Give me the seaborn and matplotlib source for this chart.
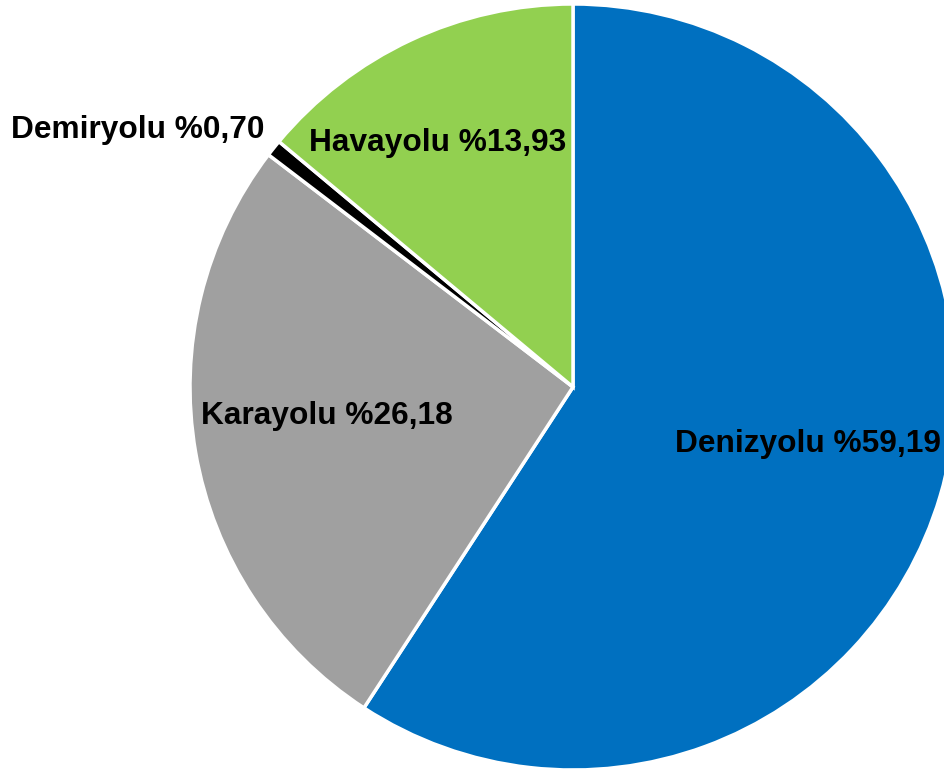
import matplotlib
matplotlib.use("Agg")
import matplotlib.pyplot as plt
import numpy as np
import seaborn as sns

sns.set_style("white")
plt.rcParams["font.family"] = ["Liberation Sans", "DejaVu Sans"]

categories = ["Denizyolu", "Karayolu", "Demiryolu", "Havayolu"]
shares = [59.19, 26.18, 0.70, 13.93]
colors = ["#0070C0", "#A0A0A0", "#000000", "#92D050"]

# label placement: radius (in pie radii), extra angle offset (deg), alignment
label_r = [0.63, 0.646, 1.05, 0.73]
label_dang = [3.0, -3.0, -1.2, 4.0]
label_ha = ["center", "center", "right", "center"]

fig = plt.figure(figsize=(9.45, 7.73), dpi=100)
ax = fig.add_axes([0, 0, 1, 1])

wedges, _ = ax.pie(
    shares, colors=colors, startangle=90, counterclock=False,
    radius=1.0, wedgeprops={"edgecolor": "white", "linewidth": 2.5},
)

for w, cat, val, r, da, ha in zip(wedges, categories, shares, label_r, label_dang, label_ha):
    mid = np.deg2rad((w.theta1 + w.theta2) / 2 + da)
    txt = f"{cat} %{val:.2f}".replace(".", ",")
    ax.text(r * np.cos(mid), r * np.sin(mid), txt, ha=ha, va="center",
            fontsize=22.8, fontweight="bold", color="black")

cx, cy, rad = 573, 386, 383
ax.set_xlim(-cx / rad, (945 - cx) / rad)
ax.set_ylim(-cy / rad, (773 - cy) / rad)
ax.set_aspect("equal")
ax.axis("off")

fig.savefig("out.png", dpi=100)
